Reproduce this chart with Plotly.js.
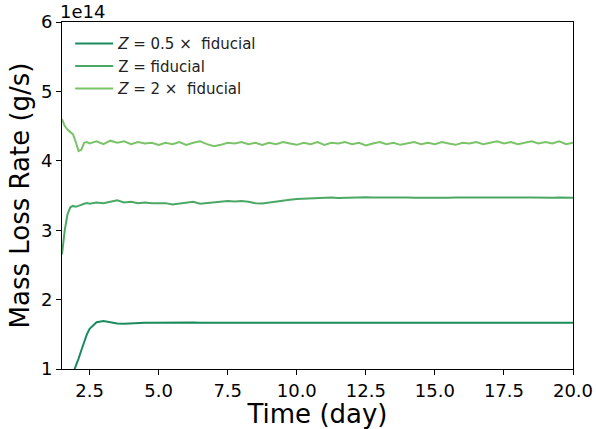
<!DOCTYPE html>
<html>
<head>
<meta charset="utf-8">
<script src="https://cdn.plot.ly/plotly-3.0.1.min.js"></script>
<style>html,body{margin:0;padding:0;background:#fff;}#chart{width:596px;height:429px;}</style>
</head>
<body>
<div id="chart"></div>
<script>
// Time (day)
const time = [1.5,1.6,1.7,1.8,1.9,2.0,2.1,2.2,2.3,2.4,2.5,
  2.75,3.0,3.25,3.5,3.75,4.0,4.25,4.5,4.75,5.0,5.25,5.5,5.75,6.0,6.25,6.5,6.75,7.0,7.25,7.5,7.75,
  8.0,8.25,8.5,8.75,9.0,9.25,9.5,9.75,10.0,10.25,10.5,10.75,11.0,11.25,11.5,11.75,12.0,12.25,12.5,12.75,
  13.0,13.25,13.5,13.75,14.0,14.25,14.5,14.75,15.0,15.25,15.5,15.75,16.0,16.25,16.5,16.75,17.0,17.25,17.5,17.75,
  18.0,18.25,18.5,18.75,19.0,19.25,19.5,19.75,20.0];

// Mass loss rate, units of 1e14 g/s
const zHalf = [0.50,0.62,0.74,0.85,0.94,1.04,1.15,1.27,1.39,1.50,1.58,
  1.675,1.69,1.675,1.655,1.652,1.660,1.665,1.667,1.668,1.670,1.671,1.672,1.670,1.669,1.670,1.668,1.667,1.668,1.669,1.668,1.667,
  1.668,1.667,1.668,1.666,1.667,1.668,1.667,1.666,1.667,1.668,1.667,1.666,1.667,1.667,1.668,1.667,1.666,1.667,1.667,1.668,
  1.667,1.666,1.667,1.667,1.668,1.667,1.666,1.667,1.667,1.666,1.667,1.668,1.667,1.666,1.667,1.667,1.666,1.667,1.667,1.666,
  1.667,1.667,1.666,1.667,1.667,1.666,1.667,1.667,1.667];

const zFid = [2.65,3.00,3.23,3.33,3.35,3.34,3.35,3.37,3.38,3.39,3.38,
  3.40,3.39,3.41,3.43,3.40,3.41,3.39,3.40,3.39,3.385,3.39,3.37,3.38,3.39,3.41,3.38,3.39,3.40,3.415,3.42,3.415,
  3.42,3.41,3.39,3.385,3.40,3.42,3.435,3.44,3.45,3.455,3.46,3.465,3.465,3.47,3.465,3.47,3.472,3.47,3.475,3.47,
  3.472,3.47,3.468,3.47,3.472,3.469,3.471,3.468,3.47,3.472,3.469,3.47,3.468,3.471,3.47,3.468,3.47,3.472,3.469,3.47,
  3.468,3.47,3.471,3.468,3.47,3.469,3.471,3.468,3.467];

const zTwo = [4.60,4.50,4.45,4.42,4.38,4.27,4.14,4.16,4.26,4.27,4.25,
  4.28,4.24,4.29,4.26,4.28,4.24,4.27,4.25,4.26,4.23,4.26,4.24,4.27,4.23,4.26,4.28,4.24,4.21,4.23,4.26,4.25,
  4.27,4.24,4.26,4.23,4.26,4.24,4.27,4.25,4.23,4.26,4.24,4.27,4.23,4.26,4.25,4.27,4.24,4.26,4.22,4.25,
  4.27,4.24,4.26,4.23,4.25,4.27,4.24,4.26,4.24,4.27,4.25,4.23,4.26,4.25,4.27,4.24,4.26,4.28,4.25,4.27,
  4.24,4.26,4.28,4.25,4.27,4.25,4.28,4.24,4.26];

const seriesNames = ['<i>Z</i> = 0.5 ×  fiducial', 'Z = fiducial', '<i>Z</i> = 2 ×  fiducial'];
const seriesColors = ['#1b8a5e', '#4aa864', '#7ac368'];
const xTickVals = [2.5,5.0,7.5,10.0,12.5,15.0,17.5,20.0];
const xTickText = ['2.5','5.0','7.5','10.0','12.5','15.0','17.5','20.0'];

const font = 'DejaVu Sans, sans-serif';
const ys = [zHalf, zFid, zTwo];
const traces = ys.map((y, i) => ({
  x: time, y: y, type: 'scatter', mode: 'lines', name: seriesNames[i],
  line: {color: seriesColors[i], width: 2}
}));

const axisCommon = {
  showline: true, mirror: true, linecolor: '#000', linewidth: 1,
  ticks: 'outside', ticklen: 5, tickwidth: 1, tickcolor: '#000',
  showgrid: false, zeroline: false,
  tickfont: {family: font, size: 18, color: '#000'}
};

const layout = {
  width: 596, height: 429,
  margin: {l: 62, r: 23, t: 22, b: 60},
  paper_bgcolor: '#fff', plot_bgcolor: '#fff',
  font: {family: font, color: '#000'},
  showlegend: true,
  legend: {x: 0.016, y: 0.985, xanchor: 'left', yanchor: 'top', bgcolor: 'rgba(0,0,0,0)',
    font: {family: font, size: 15, color: '#222'}, tracegroupgap: 0, itemwidth: 38},
  xaxis: Object.assign({}, axisCommon, {
    range: [1.5, 20], tickmode: 'array', tickvals: xTickVals, ticktext: xTickText,
    title: {text: 'Time (day)', font: {family: font, size: 26, color: '#000'}, standoff: 0}
  }),
  yaxis: Object.assign({}, axisCommon, {
    range: [1, 6], tickmode: 'linear', tick0: 1, dtick: 1,
    title: {text: 'Mass Loss Rate (g/s)', font: {family: font, size: 26, color: '#000'}, standoff: 3}
  }),
  annotations: [{
    text: '1e14', xref: 'paper', yref: 'paper', x: 0, y: 1, xanchor: 'left', yanchor: 'bottom',
    showarrow: false, font: {family: font, size: 18, color: '#000'}, yshift: -2, xshift: -4
  }]
};

Plotly.newPlot('chart', traces, layout, {displayModeBar: false, staticPlot: true});
</script>
</body>
</html>
